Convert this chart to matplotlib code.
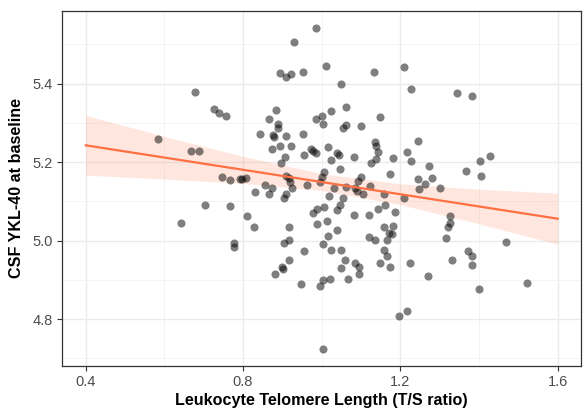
import numpy as np
import matplotlib
matplotlib.use("Agg")
import matplotlib.pyplot as plt
from matplotlib.ticker import MultipleLocator

# leukocyte telomere length (T/S ratio) and CSF YKL-40 at baseline
tl = [0.985, 0.930, 0.893, 0.908, 0.922, 0.952, 0.679, 0.727, 0.738, 0.757,
      0.885, 0.866, 0.890, 0.888, 0.986, 0.844, 0.875, 0.878, 0.909, 0.952,
      0.585, 0.893, 0.921, 0.874, 0.974, 0.979, 0.954, 0.986, 0.907, 0.668,
      0.689, 0.896, 0.746, 0.767, 0.791, 0.797, 0.808, 0.908, 0.917, 0.920,
      0.962, 0.857, 0.874, 0.831, 0.865, 0.908, 0.903, 0.924, 0.703, 0.768,
      0.643, 0.810, 0.827, 0.917, 0.979, 0.988, 0.988, 0.778, 0.778, 0.903,
      0.916, 0.956, 1.002, 0.916, 0.899, 0.902, 0.882, 0.947, 0.996, 1.002,
      1.002, 1.010, 1.132, 1.208, 1.049, 1.226, 1.344, 1.382, 1.062, 1.023,
      1.000, 1.003, 1.148, 1.062, 1.054, 1.099, 1.246, 1.136, 1.138, 1.144,
      1.015, 1.040, 1.045, 1.023, 1.082, 1.138, 1.125, 1.181, 1.217, 1.226,
      1.274, 1.427, 1.402, 1.367, 1.405, 1.047, 1.006, 1.173, 1.246, 1.280,
      1.263, 1.000, 1.099, 1.091, 1.123, 1.302, 0.995, 1.030, 1.062, 1.085,
      1.089, 1.106, 1.159, 1.248, 1.210, 1.019, 1.054, 1.005, 1.047, 1.040,
      1.082, 1.119, 1.142, 1.161, 1.186, 1.013, 1.040, 1.017, 1.119, 1.135,
      1.159, 1.182, 1.171, 1.178, 1.165, 1.326, 1.326, 1.322, 1.316, 1.468,
      1.024, 1.049, 1.159, 1.165, 1.060, 1.085, 1.095, 1.049, 1.096, 1.148,
      1.173, 1.225, 1.332, 1.371, 1.382, 1.382, 1.270, 1.022, 1.066, 1.400,
      1.522, 1.197, 1.216]
ykl40 = [5.543, 5.507, 5.427, 5.418, 5.425, 5.430, 5.380, 5.335, 5.326, 5.318,
         5.333, 5.309, 5.298, 5.286, 5.309, 5.271, 5.269, 5.263, 5.268, 5.271,
         5.259, 5.242, 5.242, 5.233, 5.234, 5.229, 5.219, 5.224, 5.214, 5.228,
         5.228, 5.198, 5.162, 5.155, 5.156, 5.156, 5.161, 5.164, 5.161, 5.150,
         5.141, 5.141, 5.133, 5.123, 5.120, 5.118, 5.108, 5.135, 5.092, 5.088,
         5.045, 5.063, 5.036, 5.036, 5.070, 5.081, 5.042, 4.994, 4.984, 4.994,
         5.002, 4.973, 4.992, 4.952, 4.934, 4.927, 4.916, 4.889, 4.885, 4.899,
         4.725, 5.446, 5.430, 5.443, 5.400, 5.387, 5.376, 5.368, 5.341, 5.330,
         5.318, 5.298, 5.316, 5.294, 5.286, 5.292, 5.254, 5.251, 5.242, 5.227,
         5.238, 5.224, 5.219, 5.206, 5.213, 5.208, 5.198, 5.211, 5.225, 5.203,
         5.191, 5.216, 5.202, 5.178, 5.165, 5.183, 5.176, 5.170, 5.156, 5.159,
         5.145, 5.162, 5.162, 5.151, 5.140, 5.135, 5.149, 5.135, 5.137, 5.133,
         5.126, 5.120, 5.118, 5.131, 5.110, 5.114, 5.108, 5.085, 5.091, 5.077,
         5.066, 5.066, 5.080, 5.091, 5.072, 5.051, 5.026, 5.013, 5.009, 5.001,
         5.035, 5.038, 5.019, 5.017, 5.002, 5.063, 5.045, 5.034, 5.007, 4.996,
         4.975, 4.975, 4.975, 4.960, 4.951, 4.944, 4.933, 4.931, 4.914, 4.942,
         4.934, 4.944, 4.952, 4.974, 4.960, 4.937, 4.910, 4.902, 4.902, 4.878,
         4.893, 4.808, 4.822]

# fitted line and its 95% band
fit_x = [0.4, 1.6]
fit_y = [5.243, 5.056]
band_x = [0.4, 0.6, 0.8, 1.0, 1.2, 1.4, 1.6]
band_lo = [5.167, 5.157, 5.146, 5.128, 5.092, 5.043, 4.991]
band_hi = [5.319, 5.266, 5.215, 5.171, 5.145, 5.131, 5.121]

x_ticks = [0.4, 0.8, 1.2, 1.6]
y_ticks = [4.8, 5.0, 5.2, 5.4]

fig = plt.figure(figsize=(5.86, 4.12), dpi=100)
ax = fig.add_axes([0.106, 0.112, 0.886, 0.861])

ax.fill_between(band_x, band_lo, band_hi, color="#FF7F50",
                alpha=0.18, linewidth=0, zorder=2)
ax.scatter(tl, ykl40, s=34, color="black", alpha=0.5, linewidths=0, zorder=3)
ax.plot(fit_x, fit_y, color="#FF7043", linewidth=1.6, zorder=4)

ax.set_xlim(0.34, 1.66)
ax.set_ylim(4.681, 5.585)
ax.set_xticks(x_ticks)
ax.set_yticks(y_ticks)
ax.set_xticklabels([f"{v:.1f}" for v in x_ticks])
ax.set_yticklabels([f"{v:.1f}" for v in y_ticks])
ax.xaxis.set_minor_locator(MultipleLocator(0.2))
ax.yaxis.set_minor_locator(MultipleLocator(0.1))

ax.grid(which="major", color="#EBEBEB", linewidth=1.0, zorder=0)
ax.grid(which="minor", color="#F3F3F3", linewidth=0.6, zorder=0)
ax.set_axisbelow(True)
ax.tick_params(which="major", length=3.5, width=0.8, color="#333333",
               labelcolor="#4D4D4D", labelsize=10.5, pad=3)
ax.tick_params(which="minor", length=0)
for sp in ax.spines.values():
    sp.set_color("#333333")
    sp.set_linewidth(0.9)

font = {"family": ["Liberation Sans", "DejaVu Sans"], "weight": "bold", "size": 11.6}
for lab in ax.get_xticklabels() + ax.get_yticklabels():
    lab.set_family(["Liberation Sans", "DejaVu Sans"])
ax.set_xlabel("Leukocyte Telomere Length (T/S ratio)", fontdict=font, labelpad=3)
ax.set_ylabel("CSF YKL-40 at baseline", fontdict=font, labelpad=6)

fig.savefig("out.png", dpi=100)
